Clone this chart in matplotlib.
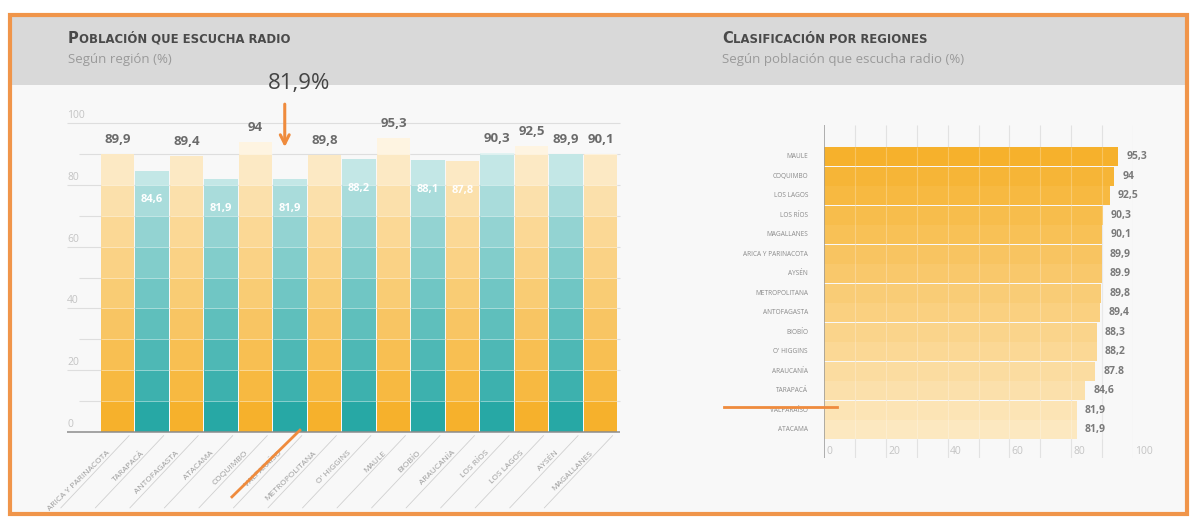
import numpy as np
import matplotlib.pyplot as plt
from matplotlib.patches import Rectangle
from matplotlib.colors import to_rgb

plt.rcParams['font.family'] = ['Open Sans', 'DejaVu Sans']

# left chart: regions north -> south
regions = ['ARICA Y PARINACOTA', 'TARAPACÁ', 'ANTOFAGASTA', 'ATACAMA', 'COQUIMBO',
           'VALPARAÍSO', 'METROPOLITANA', "O' HIGGINS", 'MAULE', 'BIOBÍO',
           'ARAUCANÍA', 'LOS RÍOS', 'LOS LAGOS', 'AYSÉN', 'MAGALLANES']
values = [89.9, 84.6, 89.4, 81.9, 94, 81.9, 89.8, 88.2, 95.3, 88.1, 87.8, 90.3, 92.5, 89.9, 90.1]
value_labels = ['89,9', '84,6', '89,4', '81,9', '94', '81,9', '89,8', '88,2', '95,3', '88,1',
                '87,8', '90,3', '92,5', '89,9', '90,1']

# right chart: ranking
ranked_regions = ['MAULE', 'COQUIMBO', 'LOS LAGOS', 'LOS RÍOS', 'MAGALLANES', 'ARICA Y PARINACOTA',
                  'AYSÉN', 'METROPOLITANA', 'ANTOFAGASTA', 'BIOBÍO', "O' HIGGINS", 'ARAUCANÍA',
                  'TARAPACÁ', 'VALPARAÍSO', 'ATACAMA']
ranked_values = [95.3, 94, 92.5, 90.3, 90.1, 89.9, 89.9, 89.8, 89.4, 88.3, 88.2, 87.8, 84.6, 81.9, 81.9]
ranked_labels = ['95,3', '94', '92,5', '90,3', '90,1', '89,9', '89.9', '89,8', '89,4', '88,3',
                 '88,2', '87.8', '84,6', '81,9', '81,9']

highlight = 'VALPARAÍSO'

ORANGE = '#F6B12C'
TEAL = '#27A8A5'
ACCENT = '#EF8B3D'


def blend(c, t):
    r = np.array(to_rgb(c))
    return tuple(r + (1 - r) * t)


W, H = 1194, 532
fig = plt.figure(figsize=(W / 100, H / 100), dpi=100)


def px(x0, y0, x1, y1):
    # axes rect from pixel box
    return [x0 / W, 1 - y1 / H, (x1 - x0) / W, (y1 - y0) / H]


# background panel
ax_bg = fig.add_axes([0, 0, 1, 1])
ax_bg.set_xlim(0, W)
ax_bg.set_ylim(H, 0)
ax_bg.axis('off')
ax_bg.add_patch(Rectangle((11, 16), 1175, 498, facecolor='#F8F8F8', edgecolor='none'))
ax_bg.add_patch(Rectangle((11, 16), 1175, 69, facecolor='#D9D9D9', edgecolor='none'))
ax_bg.add_patch(Rectangle((10, 15), 1177, 499, fill=False, edgecolor='#F0954A', lw=3))


def small_caps(x, y, text):
    first = ax_bg.text(x, y, text[0], fontsize=10.5, fontweight='bold', color='#4a4a4a', va='baseline',
                       family='DejaVu Sans')
    ax_bg.annotate(text[1:], xy=(1, 0), xycoords=first, xytext=(0.3, 0), textcoords='offset points',
                   fontsize=8.4, fontweight='bold', color='#4a4a4a', va='bottom', family='DejaVu Sans')


small_caps(68, 43, 'POBLACIÓN QUE ESCUCHA RADIO')
ax_bg.text(68, 63, 'Según región (%)', fontsize=9.5, color='#9a9a9a', va='baseline')
small_caps(722, 43, 'CLASIFICACIÓN POR REGIONES')
ax_bg.text(722, 63, 'Según población que escucha radio (%)', fontsize=9.5, color='#9a9a9a', va='baseline')

# ---- left chart
ax1 = fig.add_axes(px(100, 123, 618, 432))
ax1.set_xlim(-0.5, 14.5)
ax1.set_ylim(0, 100)
ax1.axis('off')

for g in range(10, 101, 10):
    start = -1.45 if g % 20 == 0 else -1.1
    ax1.hlines(g, start, 14.55, color='#dedede', lw=0.8, zorder=0, clip_on=False)
for g in range(0, 101, 20):
    ax1.text(-1.45, g + 2.4, str(g), ha='left', va='center', fontsize=7.5, color='#c4c4c4', clip_on=False)

fade = [0, 0.1, 0.18, 0.26, 0.34, 0.42, 0.5, 0.6, 0.72, 0.86]
x = np.arange(len(regions))
for i, v in enumerate(values):
    base = ORANGE if i % 2 == 0 else TEAL
    for k in range(10):
        lo, hi = 10 * k, min(10 * k + 10, v)
        if hi <= lo:
            break
        ax1.bar(x[i], hi - lo, bottom=lo, width=0.97, color=blend(base, fade[k]), lw=0, zorder=2)
        if hi == 10 * k + 10 and k < 9:
            ax1.hlines(hi, x[i] - 0.485, x[i] + 0.485, color='white', alpha=0.45, lw=0.7, zorder=3)

for i, (v, lab) in enumerate(zip(values, value_labels)):
    if v < 89:
        ax1.text(x[i], v - 9.5, lab, ha='center', va='center', fontsize=8, fontweight='bold',
                 color='white', zorder=4)
    else:
        ax1.text(x[i], v + 4.6, lab, ha='center', va='center', fontsize=9.5, fontweight='bold',
                 color='#6b6b6b', zorder=4, clip_on=False)

ax1.hlines(0, -1.45, 14.55, color='#8c8c8c', lw=1.1, zorder=4, clip_on=False)

for i, name in enumerate(regions):
    ax1.text(x[i] - 0.25, -6.5, name, rotation=44, ha='right', va='center', rotation_mode='anchor',
             fontsize=6, color='#9a9a9a', clip_on=False)
    ax1.annotate('', xy=(x[i] + 0.4, -0.5), xytext=(-52, -55), textcoords='offset points',
                 arrowprops=dict(arrowstyle='-', color='#d0d0d0', lw=0.6), annotation_clip=False)

hi_idx = regions.index(highlight)
ax1.annotate('', xy=(hi_idx - 0.15, 91.3), xytext=(hi_idx - 0.15, 107),
             arrowprops=dict(arrowstyle='->', color=ACCENT, lw=2.2, mutation_scale=16),
             annotation_clip=False)
ax1.text(hi_idx + 0.27, 112.8, value_labels[hi_idx] + '%', ha='center', va='center', fontsize=16,
         color='#444444', clip_on=False)
ax1.plot([hi_idx - 1.68, hi_idx + 0.29], [-21, 0.6], color=ACCENT, lw=2, clip_on=False, zorder=5)

# ---- right chart
ax2 = fig.add_axes(px(824, 125, 1133, 458))
ax2.set_xlim(0, 100)
ax2.set_ylim(15.45, -1.63)
ax2.axis('off')

rows = np.arange(len(ranked_regions))
ax2.vlines(np.arange(10, 101, 10), -1.63, 15.45, color='#e2e2e2', lw=0.8, zorder=0)
for r, v in zip(rows, ranked_values):
    ax2.barh(r, v, height=0.97, color=blend(ORANGE, 0.05 * r), lw=0, zorder=2)
ax2.vlines(np.arange(10, 100, 10), -0.5, 14.5, color='white', alpha=0.25, lw=0.8, zorder=3)
ax2.vlines(0, -1.63, 15.45, color='#9a9a9a', lw=1.1, zorder=4)

for r, (v, lab) in enumerate(zip(ranked_values, ranked_labels)):
    ax2.text(v + 2.6, r, lab, ha='left', va='center', fontsize=7.5, fontweight='bold', color='#7a7a7a')
for r, name in enumerate(ranked_regions):
    ax2.text(-5.2, r, name, ha='right', va='center', fontsize=4.7, color='#8a8a8a', clip_on=False)
for t in range(0, 101, 20):
    ax2.text(t + 0.8, 15.1, str(t), ha='left', va='center', fontsize=7.5, color='#c4c4c4', clip_on=False)

hr = ranked_regions.index(highlight)
ax2.plot([-32.5, 4.2], [hr - 0.15, hr - 0.15], color=ACCENT, lw=2, clip_on=False, zorder=5)

fig.savefig('out.png', dpi=100, facecolor='white')
